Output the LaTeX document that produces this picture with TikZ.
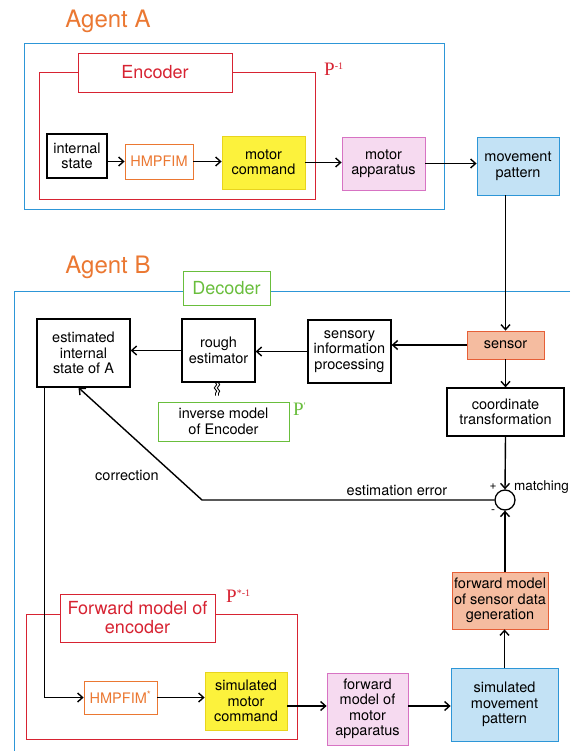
\documentclass[tikz,border=0pt]{standalone}
\usepackage{fontspec}
\setmainfont{TeX Gyre Heros}
\newfontfamily\pfont{Liberation Serif}
\usepackage{tikz}
\usetikzlibrary{arrows.meta,calc,decorations.pathmorphing}
\definecolor{figblue}{RGB}{45,150,215}
\definecolor{figred}{RGB}{215,35,50}
\definecolor{figorange}{RGB}{235,120,50}
\definecolor{figgreen}{RGB}{105,190,60}
\definecolor{figyellow}{RGB}{252,242,60}
\definecolor{figyline}{RGB}{232,212,30}
\definecolor{figpink}{RGB}{246,218,240}
\definecolor{figpline}{RGB}{215,115,195}
\definecolor{figsky}{RGB}{195,226,245}
\definecolor{figsalmon}{RGB}{245,188,160}
\definecolor{figsline}{RGB}{230,95,55}
\newcommand{\pexp}[1]{\raisebox{5.5pt}{\fontsize{10}{10}\selectfont #1}}
\tikzset{
  txt/.style  ={font=\fontsize{14.5}{15.5}\selectfont, align=center, inner sep=1pt},
  blk/.style  ={txt, draw=black, line width=1.3pt},
  obox/.style ={txt, draw=figorange, line width=0.8pt, text=figorange},
  ybox/.style ={txt, draw=figyline, fill=figyellow, line width=0.8pt},
  pbox/.style ={txt, draw=figpline, fill=figpink, line width=0.8pt},
  bbox/.style ={txt, draw=figblue, fill=figsky, line width=0.8pt},
  sbox/.style ={txt, draw=figsline, fill=figsalmon, line width=0.8pt},
  gbox/.style ={txt, draw=figgreen, line width=0.8pt},
  rlab/.style ={draw=figred, fill=white, line width=0.8pt, text=figred, font=\fontsize{18}{19}\selectfont, align=center, inner sep=1pt},
  glab/.style ={draw=figgreen, fill=white, line width=0.8pt, text=figgreen, font=\fontsize{18}{19}\selectfont, inner sep=1pt},
  ttl/.style  ={text=figorange, font=\fontsize{24}{26}\selectfont, inner sep=0pt},
  plab/.style ={font=\pfont\fontsize{19}{19}\selectfont, inner sep=0pt, anchor=west},
  sgn/.style  ={font=\fontsize{12}{12}\selectfont, inner sep=0pt},
  frm/.style  ={line width=0.8pt},
  ptr/.style  ={draw=black, line width=1.4pt, -{Straight Barb[length=5pt,width=9pt]}},
  wig/.style  ={line width=0.9pt, decorate, decoration={snake, amplitude=1.2pt, segment length=6.5pt}},
}
\begin{document}
\begin{tikzpicture}[x=1pt,y=-1pt]
  \fill[white] (0,0) rectangle (570,751);
  \useasboundingbox (0,0) rectangle (570,751);
  \begin{scope}
  \node[ttl] (agA) at (108,21) {Agent A};
  \draw[frm, draw=figblue] (24,43) rectangle (444,209);
  \draw[frm, draw=figred] (39,72) rectangle (315,199);
  \node[rlab, minimum width=154pt, minimum height=39pt] (enc) at (155,72.5) {Encoder};
  \node[plab, text=figred] (pA) at (324,69) {P\pexp{-1}};
  \node[blk, minimum width=60pt, minimum height=44pt] (ist) at (77,156) {internal\\state};
  \node[obox, minimum width=68pt, minimum height=35pt] (hmp) at (159,161.5) {HMPFIM};
  \node[ybox, minimum width=83pt, minimum height=53pt] (mcmd) at (263.5,162.5) {motor\\command};
  \node[pbox, minimum width=83pt, minimum height=53pt] (mapp) at (383.5,163.5) {motor\\apparatus};
  \node[bbox, minimum width=82pt, minimum height=58pt] (mpat) at (518,166) {movement\\pattern};
  \draw[ptr] (ist.east |- hmp) -- (hmp.west);
  \draw[ptr] (hmp.east) -- (hmp.east -| mcmd.west);
  \draw[ptr] (mcmd.east) -- (mcmd.east -| mapp.west);
  \draw[ptr] (mapp.east) -- (mapp.east -| mpat.west);
  \end{scope}
  \begin{scope}
  \node[ttl] (agB) at (108,267) {Agent B};
  \draw[frm, draw=figblue] (570,291) -- (14,291) -- (14,751);
  \node[glab, minimum width=87pt, minimum height=34pt] (dec) at (226.5,288) {Decoder};
  \node[blk, minimum width=93pt, minimum height=68pt] (est) at (83.5,353) {estimated\\internal\\state of A};
  \node[blk, minimum width=73pt, minimum height=63pt] (rough) at (218.5,350.5) {rough\\estimator};
  \node[blk, minimum width=83pt, minimum height=63pt] (sip) at (349.5,351.5) {sensory\\information\\processing};
  \node[sbox, minimum width=77pt, minimum height=28pt] (sens) at (505.5,345) {sensor};
  \node[blk, minimum width=117pt, minimum height=48pt] (coord) at (505.5,412) {coordinate\\transformation};
  \node[gbox, minimum width=131pt, minimum height=39pt] (inv) at (223.5,421.5) {inverse model\\of Encoder};
  \node[plab, text=figgreen] (pB) at (293,409) {P\pexp{'}};
  \node[circle, draw, line width=1.3pt, minimum size=20pt, inner sep=0pt] (mt) at (505,500) {};
  \node[sgn] (pl) at (493,487) {+};
  \node[sgn] (mi) at (493,512) {-};
  \node[txt, font=\fontsize{13.5}{15}\selectfont, anchor=west, inner sep=0pt] (mlab) at (514,487) {matching};
  \node[txt] (eerr) at (397,490) {estimation error};
  \node[txt] (corr) at (127,475) {correction};
  \coordinate (bend) at (202,500);
  \draw[ptr] (mpat.south -| sens) -- (sens.north);
  \draw[ptr] (sens.south) -- (coord.north);
  \draw[ptr] (sens.west) -- (sens.west -| sip.east);
  \draw[ptr] (sip.west) -- (sip.west -| rough.east);
  \draw[ptr] (rough.west) -- (rough.west -| est.east);
  \draw[ptr] (coord.south) -- (mt.north);
  \draw[ptr] (mt.west) -- (bend) -- ([xshift=-5pt]est.south);
  \draw[wig] ([xshift=-3pt]rough.south) -- ++(0,13);
  \draw[wig] ([xshift=0pt]rough.south) -- ++(0,13);
  \end{scope}
  \begin{scope}
  \draw[frm, draw=figred] (26,614) rectangle (297,739);
  \node[rlab, minimum width=155pt, minimum height=48pt] (fwdenc) at (137.5,618) {Forward model of\\encoder};
  \node[plab, text=figred] (pC) at (226,596) {P\pexp{*-1}};
  \node[obox, minimum width=73pt, minimum height=33pt] (hmps) at (120.5,697.5) {HMPFIM\textsuperscript{*}};
  \node[ybox, minimum width=82pt, minimum height=58pt] (smcmd) at (246,701) {simulated\\motor\\command};
  \node[pbox, minimum width=81pt, minimum height=72pt] (fmapp) at (367.5,709) {forward\\model of\\motor\\apparatus};
  \node[bbox, minimum width=107pt, minimum height=73pt] (smpat) at (504.5,704.5) {simulated\\movement\\pattern};
  \node[sbox, minimum width=96pt, minimum height=57pt] (fsens) at (500,600.5) {forward model\\of sensor data\\generation};
  \draw[ptr] ([xshift=8pt]est.south west) |- (hmps.west);
  \draw[ptr] (hmps.east) -- (hmps.east -| smcmd.west);
  \draw[ptr] ([yshift=-5pt]smcmd.east) -- ([yshift=-5pt]smcmd.east -| fmapp.west);
  \draw[ptr] ([yshift=3pt]fmapp.east) -- ([yshift=3pt]fmapp.east -| smpat.west);
  \draw[ptr] (smpat.north) -- (smpat.north |- fsens.south);
  \draw[ptr] (mt |- fsens.north) -- (mt.south);
  \end{scope}
\end{tikzpicture}
\end{document}
